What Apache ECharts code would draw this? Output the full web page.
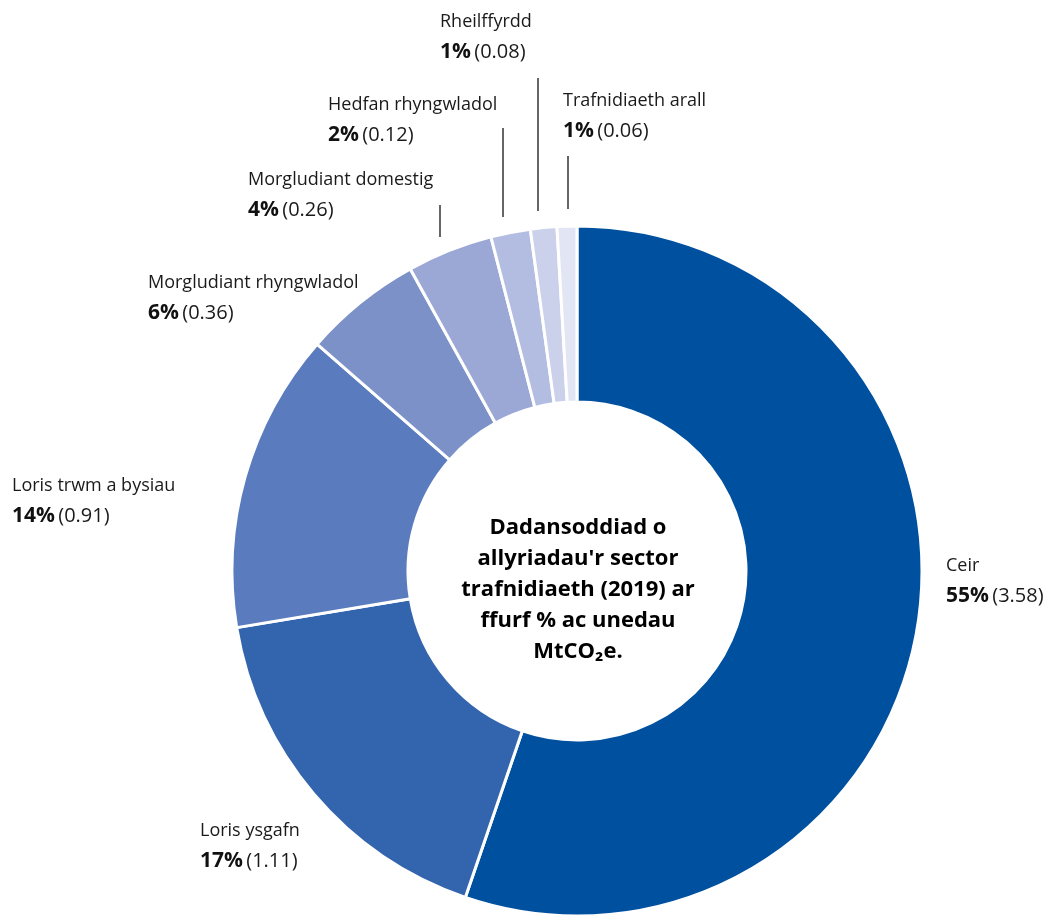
<!DOCTYPE html>
<html>
<head>
<meta charset="utf-8">
<script src="https://cdn.jsdelivr.net/npm/echarts@6/dist/echarts.min.js"></script>
<style>
html,body{margin:0;padding:0;background:#fff;}
#chart{width:1062px;height:916px;}
</style>
</head>
<body>
<div id="chart"></div>
<script>
// ---- data ----
var categories = ['Ceir','Loris ysgafn','Loris trwm a bysiau','Morgludiant rhyngwladol','Morgludiant domestig','Hedfan rhyngwladol','Rheilffyrdd','Trafnidiaeth arall'];
var values = [3.58, 1.11, 0.91, 0.36, 0.26, 0.12, 0.08, 0.06];
var centerTitle = "Dadansoddiad o\nallyriadau'r sector\ntrafnidiaeth (2019) ar\nffurf % ac unedau\nMtCO\u2082e.";

// ---- styles / layout ----
var colors = ['#0050a0','#3364ae','#5a7bbd','#7b91c8','#9ba8d5','#b3bde2','#cbd1eb','#e2e5f4'];
// label top-left positions [x, y]
var labelPos = [[946,550],[200,815],[12,470],[148,267],[248,164],[328,89],[440,6],[563,85]];
// leader lines [x, yTop, yBottom] or null
var leader = [null,null,null,null,[440,205,237],[503,128,217],[538,78,211],[568,156,209]];

var FONT = '"Open Sans", "Liberation Sans", Arial, sans-serif';

var chart = echarts.init(document.getElementById('chart'), null, {renderer:'canvas'});

var data = categories.map(function(c,i){
  return {
    name: c,
    value: values[i],
    itemStyle: {color: colors[i]},
    labelLine: {show: !!leader[i]}
  };
});

chart.setOption({
  animation: false,
  series: [{
    type: 'pie',
    center: [577, 571],
    radius: [169, 345],
    startAngle: 90,
    clockwise: true,
    percentPrecision: 0,
    avoidLabelOverlap: false,
    silent: true,
    itemStyle: {borderColor: '#fff', borderWidth: 3},
    label: {
      show: true,
      position: 'outside',
      formatter: function(p){
        return '{n|' + p.name + '}\n{p|' + Math.round(p.percent) + '%} {v|(' + p.value.toFixed(2) + ')}';
      },
      rich: {
        n: {fontFamily: FONT, fontSize: 18, color: '#1a1a1a', lineHeight: 31},
        p: {fontFamily: FONT, fontSize: 21, fontWeight: 'bold', color: '#111', lineHeight: 31},
        v: {fontFamily: FONT, fontSize: 20, color: '#1a1a1a', lineHeight: 31}
      }
    },
    labelLine: {show: true, lineStyle: {color: '#333', width: 1.5}, length: 10, length2: 10},
    labelLayout: function(params){
      var i = params.dataIndex;
      var out = {x: labelPos[i][0], y: labelPos[i][1], align: 'left', verticalAlign: 'top'};
      if (leader[i]) {
        out.labelLinePoints = [[leader[i][0], leader[i][2]], [leader[i][0], leader[i][1]], [leader[i][0], leader[i][1]]];
      }
      return out;
    },
    data: data
  }],
  graphic: [{
    type: 'text',
    x: 578,
    y: 590,
    style: {
      text: centerTitle,
      align: 'center',
      verticalAlign: 'middle',
      fontFamily: FONT,
      fontSize: 22,
      fontWeight: 'bold',
      lineHeight: 31,
      fill: '#000'
    }
  }]
});
</script>
</body>
</html>
